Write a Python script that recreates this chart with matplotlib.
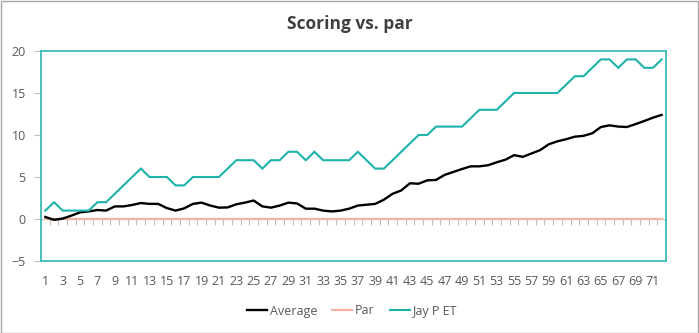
import matplotlib
matplotlib.use("Agg")
import matplotlib.pyplot as plt
from matplotlib.patches import Rectangle
import numpy as np

plt.rcParams['font.family'] = ['Open Sans', 'DejaVu Sans']

# Round numbers 1..72
rounds = list(range(1, 73))

average = [0.24, -0.1, 0.05, 0.4, 0.8, 0.9, 1.07, 1.0, 1.5, 1.5,
           1.67, 1.9, 1.8, 1.8, 1.3, 1.0, 1.27, 1.8, 1.95, 1.6,
           1.35, 1.38, 1.75, 1.95, 2.2, 1.5, 1.35, 1.6, 1.95, 1.85,
           1.23, 1.23, 1.0, 0.9, 1.0, 1.23, 1.6, 1.7, 1.8, 2.3,
           3.0, 3.4, 4.25, 4.2, 4.6, 4.65, 5.25, 5.6, 5.95, 6.27,
           6.27, 6.4, 6.75, 7.06, 7.6, 7.4, 7.8, 8.2, 8.9, 9.25,
           9.5, 9.8, 9.9, 10.2, 10.95, 11.15, 11.0, 10.95, 11.3, 11.67,
           12.06, 12.4]

par = [0] * 72

jay_p_et = [1, 2, 1, 1, 1, 1, 2, 2, 3, 4,
            5, 6, 5, 5, 5, 4, 4, 5, 5, 5,
            5, 6, 7, 7, 7, 6, 7, 7, 8, 8,
            7, 8, 7, 7, 7, 7, 8, 7, 6, 6,
            7, 8, 9, 10, 10, 11, 11, 11, 11, 12,
            13, 13, 13, 14, 15, 15, 15, 15, 15, 15,
            16, 17, 17, 18, 19, 19, 18, 19, 19, 18,
            18, 19]

y_ticks = [-5, 0, 5, 10, 15, 20]
x_tick_labels = [str(r) for r in rounds[::2]]

teal = '#1DB2AA'
border_teal = '#3BBBB5'
axis_gray = '#BFBFBF'
text_gray = '#595959'

fig = plt.figure(figsize=(6.99, 3.33), dpi=100)
ax = fig.add_axes([41 / 699, 72 / 333, 625 / 699, 210 / 333])

ax.plot(rounds, par, color='#F4B4A2', lw=1.6, label='Par', zorder=3)
ax.plot(rounds, average, color='black', lw=1.7, label='Average', zorder=4,
        solid_joinstyle='round')
ax.plot(rounds, jay_p_et, color=teal, lw=1.5, label='Jay P ET', zorder=5,
        solid_joinstyle='miter')

ax.set_xlim(0.5, 72.5)
ax.set_ylim(-5, 20)

for s in ax.spines.values():
    s.set_color(border_teal)
    s.set_linewidth(1.3)

ax.set_yticks(y_ticks)
ax.tick_params(axis='y', direction='out', length=5, width=0.8, color=axis_gray,
               labelsize=9, labelcolor=text_gray, pad=6)
ax.set_xticks(rounds[::2])
ax.set_xticklabels(x_tick_labels)
ax.tick_params(axis='x', length=0, labelsize=9, labelcolor=text_gray, pad=10)

# Horizontal axis crossing at zero, with tick marks between categories
sec = ax.secondary_xaxis(0.2)
sec.set_xticks(np.arange(0.5, 73, 1.0))
sec.set_xticklabels([])
sec.tick_params(axis='x', direction='out', length=4, width=0.8, color=axis_gray)
sec.spines['bottom'].set_color(axis_gray)
sec.spines['bottom'].set_linewidth(0.8)

fig.suptitle('Scoring vs. par', x=0.5, y=1 - 24 / 333, va='center',
             fontsize=12.5, fontweight='bold', color='#404040')

handles, labels = ax.get_legend_handles_labels()
order = [1, 0, 2]
leg = fig.legend([handles[i] for i in order], [labels[i] for i in order],
                 loc='center', bbox_to_anchor=(352 / 699, 1 - 311 / 333),
                 ncol=3, frameon=False, fontsize=9, handlelength=1.6,
                 handletextpad=0.2, columnspacing=1.2)
for t in leg.get_texts():
    t.set_color(text_gray)

fig.patches.append(Rectangle((0.5 / 699, 0.5 / 333), 697.5 / 699, 331.5 / 333,
                             transform=fig.transFigure, fill=False,
                             edgecolor='#A6A6A6', lw=1.0))

fig.savefig('out.png', dpi=100)
